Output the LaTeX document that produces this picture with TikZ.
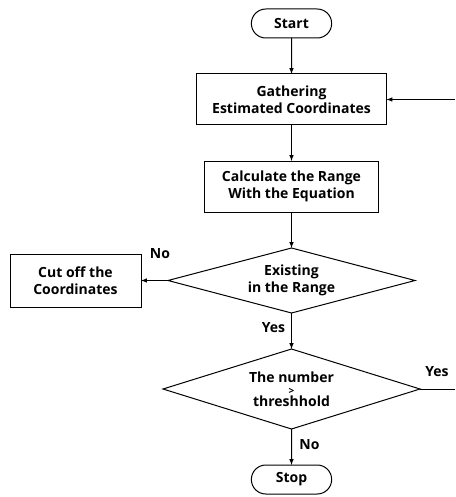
\documentclass[tikz,border=0pt]{standalone}
\usepackage{fontspec}
\setmainfont{Open Sans}
\usetikzlibrary{positioning}
\usetikzlibrary{shapes.geometric,shapes.misc}
\tikzset{
  every node/.append style={font=\fontsize{14}{17}\selectfont\bfseries},
  every path/.append style={line width=1pt},
  flow/.style={-latex},
  term/.style={rounded rectangle,draw,outer sep=0pt,minimum width=87pt,minimum height=29pt},
  proc/.style={rectangle,draw,align=center,outer sep=0pt,minimum height=#1},
  decide/.style={diamond,draw,align=center,aspect=3.8,inner sep=0pt,outer sep=0pt},
  tag/.style={inner sep=1pt}
}

\begin{document}
\begin{tikzpicture}[node distance=36pt]
  \useasboundingbox (0,0) rectangle (455pt,-497pt);
  \node (start) at (291.5pt,-23.5pt) [term] {Start};
  \node (gather) [proc=51pt,minimum width=190pt,below=of start] {Gathering\\Estimated Coordinates};
  \node (calc) [proc=51pt,minimum width=174pt,below=of gather] {Calculate the Range\\With the Equation};
  \node (exist) [decide,minimum width=247pt,minimum height=65pt,below=of calc] {Existing\\in the Range};
  \node (cut) [proc=53pt,minimum width=131pt,left=27pt of exist] {Cut off the\\Coordinates};
  \node (thresh) [decide,minimum width=257pt,minimum height=80pt,below=of exist]
    {The number\\[-5pt]{\fontsize{10}{10}\selectfont >}\\[-5pt]threshhold};
  \node (stop) [term,below=of thresh] {Stop};
  \coordinate (loopin) at ([xshift=68.5pt]gather.east);
  \coordinate (loopout) at ([xshift=35pt]thresh.east);
  % labels
  \node (no1) [tag] at ([xshift=-8pt,yshift=27pt]exist.west) {No};
  \node (yes1) [tag] at ([xshift=-18pt,yshift=-15pt]exist.south) {Yes};
  \node (yes2) [tag] at ([xshift=17pt,yshift=17pt]thresh.east) {Yes};
  \node (no2) [tag] at ([xshift=18pt,yshift=-16pt]thresh.south) {No};
  % connectors
  \draw[flow] (start) -- (gather);
  \draw[flow] (gather) -- (calc);
  \draw[flow] (calc) -- (exist);
  \draw[flow] (exist) -- (cut);
  \draw[flow] (exist) -- (thresh);
  \draw[flow] (thresh) -- (stop);
  \draw[flow] (loopin) -- (gather);
  \draw (thresh.east) -- (loopout);
\end{tikzpicture}
\end{document}
